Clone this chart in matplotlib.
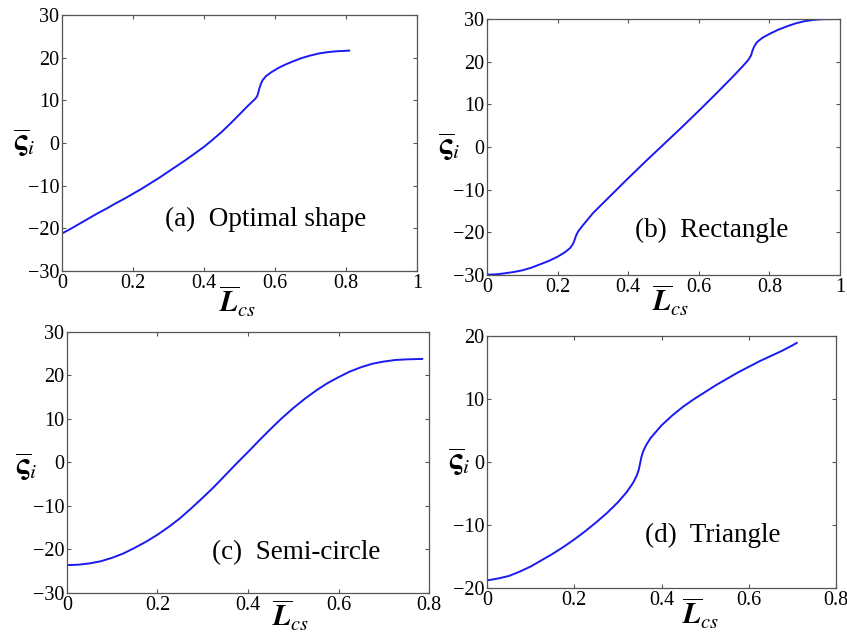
import numpy as np
import matplotlib
matplotlib.use("Agg")
import matplotlib.pyplot as plt
from matplotlib.ticker import FuncFormatter

#%% data

# (a) optimal shape
xa = [0, 0.025, 0.05, 0.075, 0.1, 0.125, 0.15, 0.175, 0.2, 0.225, 0.25, 0.275, 0.3, 0.325,
      0.35, 0.375, 0.4, 0.425, 0.45, 0.475, 0.5, 0.52, 0.535, 0.545, 0.55, 0.553, 0.556,
      0.56, 0.565, 0.575, 0.59, 0.61, 0.63, 0.65, 0.675, 0.7, 0.725, 0.75, 0.775, 0.8, 0.809]
ya = [-21.2, -20.1, -18.9, -17.7, -16.5, -15.4, -14.2, -13.1, -11.9, -10.7, -9.4, -8.1, -6.7, -5.3,
      -3.9, -2.4, -0.9, 0.8, 2.6, 4.6, 6.7, 8.4, 9.6, 10.4, 11.0, 11.8, 12.8,
      13.8, 14.7, 15.7, 16.6, 17.6, 18.4, 19.1, 19.9, 20.5, 21.0, 21.3, 21.5, 21.6, 21.65]

# (b) rectangle
xb = [0, 0.025, 0.05, 0.075, 0.1, 0.125, 0.15, 0.175, 0.2, 0.22, 0.235, 0.243, 0.248, 0.252,
      0.258, 0.27, 0.3, 0.35, 0.4, 0.45, 0.5, 0.55, 0.6, 0.65, 0.7, 0.725, 0.74, 0.748,
      0.752, 0.757, 0.765, 0.78, 0.8, 0.825, 0.85, 0.875, 0.9, 0.925, 0.95, 1.0]
yb = [-29.9, -29.85, -29.6, -29.3, -28.9, -28.3, -27.5, -26.7, -25.7, -24.7, -23.7, -22.8, -21.8, -20.8,
      -19.8, -18.5, -15.5, -11.4, -7.3, -3.3, 0.6, 4.5, 8.5, 12.6, 16.8, 19.0, 20.4, 21.5,
      22.6, 23.6, 24.6, 25.6, 26.5, 27.5, 28.3, 29.0, 29.5, 29.8, 29.95, 30.0]

# (c) semi-circle
xc = [0, 0.025, 0.05, 0.075, 0.1, 0.125, 0.15, 0.175, 0.2, 0.225, 0.25, 0.275, 0.3, 0.325,
      0.35, 0.375, 0.4, 0.425, 0.45, 0.475, 0.5, 0.525, 0.55, 0.575, 0.6, 0.625, 0.65,
      0.675, 0.7, 0.725, 0.75, 0.785]
yc = [-23.6, -23.5, -23.2, -22.7, -21.9, -20.9, -19.6, -18.2, -16.6, -14.8, -12.8, -10.5, -8.1, -5.6,
      -2.9, -0.2, 2.4, 5.1, 7.7, 10.2, 12.5, 14.6, 16.5, 18.2, 19.6, 20.9, 21.9,
      22.7, 23.2, 23.55, 23.7, 23.8]

# (d) triangle
xd = [0, 0.025, 0.05, 0.075, 0.1, 0.125, 0.15, 0.175, 0.2, 0.225, 0.25, 0.275, 0.3, 0.32,
      0.335, 0.343, 0.348, 0.351, 0.354, 0.358, 0.365, 0.375, 0.39, 0.4, 0.425, 0.45, 0.475,
      0.5, 0.525, 0.55, 0.575, 0.6, 0.625, 0.65, 0.675, 0.7, 0.71]
yd = [-18.8, -18.5, -18.1, -17.4, -16.6, -15.6, -14.6, -13.5, -12.3, -11.0, -9.6, -8.1, -6.4, -4.8,
      -3.3, -2.2, -1.2, -0.2, 0.8, 1.7, 2.7, 3.8, 5.0, 5.8, 7.4, 8.8, 10.0,
      11.1, 12.2, 13.2, 14.2, 15.1, 16.0, 16.8, 17.6, 18.5, 18.9]

panel_labels = ["(a)  Optimal shape", "(b)  Rectangle", "(c)  Semi-circle", "(d)  Triangle"]

#%% layout / style
plt.rcParams["font.family"] = "serif"
plt.rcParams["font.serif"] = ["Liberation Serif", "DejaVu Serif"]
plt.rcParams["mathtext.fontset"] = "stix"

fig = plt.figure(figsize=(8.47, 6.34), dpi=100)

# [left, bottom, width, height], xmax, ylim, ylabel x, ylabel y, xlabel x, xlabel y, text x, text y
setup = [
    ([0.0732, 0.5726, 0.4191, 0.4038], 1.0, (-30, 30), -0.107, 0.50, 0.496, -0.118, 0.29, 0.20),
    ([0.5750, 0.5662, 0.4168, 0.4038], 1.0, (-30, 30), -0.108, 0.50, 0.521, -0.098, 0.42, 0.175),
    ([0.0791, 0.0647, 0.4274, 0.4117], 0.8, (-30, 30), -0.113, 0.48, 0.619, -0.088, 0.40, 0.153),
    ([0.5750, 0.0726, 0.4120, 0.3975], 0.8, (-20, 20), -0.080, 0.50, 0.613, -0.100, 0.453, 0.21),
]
curves = [(xa, ya), (xb, yb), (xc, yc), (xd, yd)]

def tickfmt(v, pos):
    return "%g" % round(v, 2)

for (rect, xmax, ylim, ylx, yly, xlx, xly, tx, ty), (x, y), lab in zip(setup, curves, panel_labels):
    ax = fig.add_axes(rect)
    ax.plot(x, y, color=(0.1, 0.1, 0.95), lw=1.4, solid_joinstyle="round")
    ax.set_xlim(0, xmax)
    ax.set_ylim(*ylim)
    ax.set_xticks(np.arange(0, xmax + 0.01, 0.2))
    ax.set_yticks(np.arange(ylim[0], ylim[1] + 1, 10))
    ax.xaxis.set_major_formatter(FuncFormatter(tickfmt))
    ax.tick_params(direction="in", top=True, right=True, length=3, width=0.8,
                   color="#555555", labelsize=14.5, pad=2)
    for s in ax.spines.values():
        s.set_color("#555555")
        s.set_linewidth(0.9)
    ax.text(ylx, yly, r"$\overline{\boldsymbol{\varsigma}}_{i}$", transform=ax.transAxes,
            fontsize=22, ha="center", va="center")
    ax.text(xlx, xly, r"$\overline{\boldsymbol{L}}_{cs}$", transform=ax.transAxes,
            fontsize=21, ha="center", va="center")
    ax.text(tx, ty, lab, transform=ax.transAxes, fontsize=19.5, ha="left", va="center")

plt.savefig("out.png", dpi=100)
